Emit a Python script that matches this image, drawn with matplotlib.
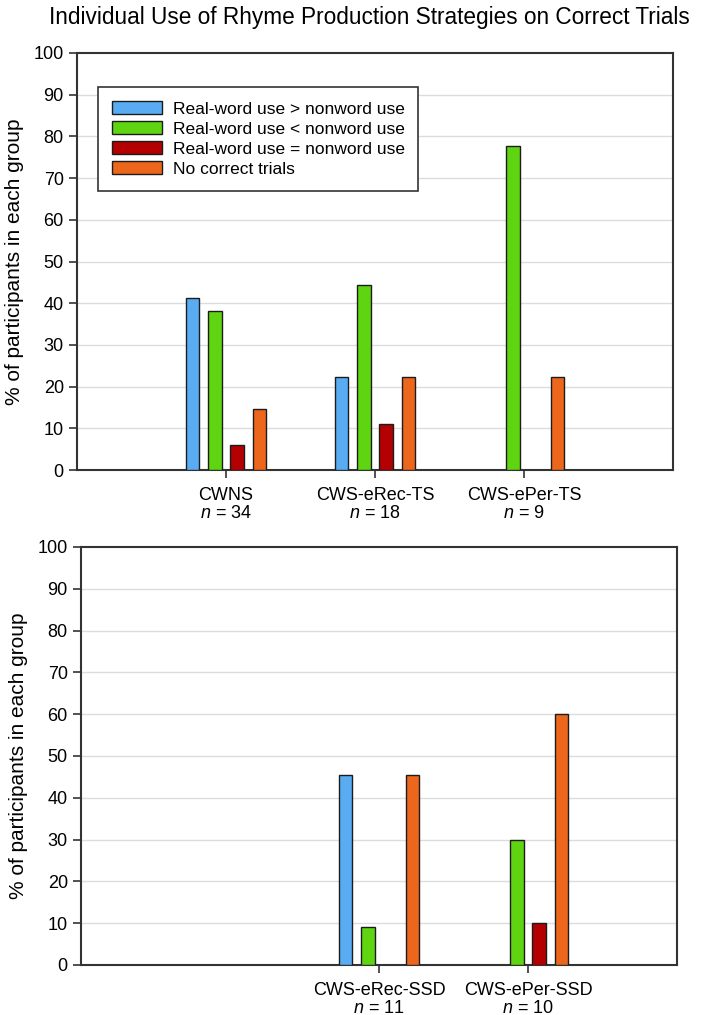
import numpy as np
import matplotlib
matplotlib.use("Agg")
import matplotlib.pyplot as plt
from matplotlib.patches import Patch

plt.rcParams['font.family'] = ['Liberation Sans', 'DejaVu Sans']
plt.rcParams['mathtext.fontset'] = 'custom'
plt.rcParams['mathtext.it'] = 'Liberation Sans:italic'
plt.rcParams['mathtext.rm'] = 'Liberation Sans'

# data
series = ["Real-word use > nonword use", "Real-word use < nonword use",
          "Real-word use = nonword use", "No correct trials"]
colors = ["#5aacf2", "#5fd410", "#b40000", "#ec661c"]

top_groups = ["CWNS", "CWS-eRec-TS", "CWS-ePer-TS"]
top_n = [34, 18, 9]
top_pos = [1, 2, 3]
top_values = [
    [41.2, 22.2, 0.0],   # real > non
    [38.2, 44.4, 77.8],  # real < non
    [5.9, 11.1, 0.0],    # real = non
    [14.7, 22.2, 22.2],  # no correct
]

bot_groups = ["CWS-eRec-SSD", "CWS-ePer-SSD"]
bot_n = [11, 10]
bot_pos = [3, 4]
bot_values = [
    [45.5, 0.0],
    [9.1, 30.0],
    [0.0, 10.0],
    [45.5, 60.0],
]

offsets = [-0.225, -0.075, 0.075, 0.225]
bar_w = 0.092

fig = plt.figure(figsize=(7.04, 10.15), dpi=100)
ax1 = fig.add_axes([0.1094, 0.5369, 0.8466, 0.4109])
ax2 = fig.add_axes([0.1151, 0.0493, 0.8466, 0.4118])


def draw_panel(ax, groups, ns, pos, values, xlim):
    for k in range(4):
        for p, v in zip(pos, values[k]):
            if v > 0:
                ax.bar(p + offsets[k], v, width=bar_w, color=colors[k],
                       edgecolor="#1c1c1c", linewidth=1.0, zorder=3)
    ax.set_xlim(*xlim)
    ax.set_ylim(0, 100)
    ax.set_yticks(np.arange(0, 101, 10))
    ax.tick_params(axis='y', labelsize=13, length=6, width=1.2, color="#333333")
    ax.set_xticks(pos)
    ax.set_xticklabels([f"{g}\n$n$ = {n}" for g, n in zip(groups, ns)],
                       fontsize=13, linespacing=1.1)
    ax.tick_params(axis='x', length=6, width=1.2, color="#333333", pad=6)
    for y in range(10, 100, 10):
        ax.axhline(y, color="#dcdcdc", linewidth=1.0, zorder=1)
    for s in ax.spines.values():
        s.set_color("#333333")
        s.set_linewidth(1.5)
    ax.set_ylabel("% of participants in each group", fontsize=15, labelpad=7)


draw_panel(ax1, top_groups, top_n, top_pos, top_values, (0, 4))
draw_panel(ax2, bot_groups, bot_n, bot_pos, bot_values, (1, 5))

handles = [Patch(facecolor=c, edgecolor="#1c1c1c", linewidth=1.0) for c in colors]
ax1.legend(handles, series, loc='upper left', bbox_to_anchor=(0.035, 0.918),
           borderaxespad=0, fontsize=12.5, frameon=True, fancybox=False,
           edgecolor="#333333", handlelength=2.9, handleheight=0.8,
           labelspacing=0.25, borderpad=0.8, handletextpad=0.6, framealpha=1)
ax1.get_legend().get_frame().set_linewidth(1.2)

fig.text(0.524, 0.983, "Individual Use of Rhyme Production Strategies on Correct Trials",
         ha='center', va='center', fontsize=16.3)

fig.savefig("out.png", dpi=100)
